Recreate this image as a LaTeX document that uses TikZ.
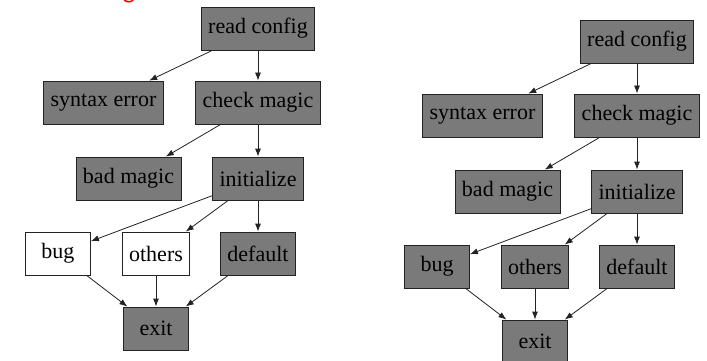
\documentclass[tikz,border=0pt]{standalone}
\usepackage{fontspec}
\setmainfont{Liberation Serif}
\newfontfamily\headfont{Carlito}
\usetikzlibrary{arrows.meta}
\definecolor{boxgray}{RGB}{122,122,122}
\definecolor{edgeink}{RGB}{35,35,35}
\tikzset{
  stage/.style={draw=edgeink, line width=0.8pt, fill=boxgray, text=black,
    font=\fontsize{22}{26}\selectfont, inner xsep=7pt, inner ysep=0pt,
    minimum width=65pt, minimum height=43pt},
  plain/.style={stage, fill=white},
  flow/.style={draw=edgeink, line width=0.8pt, -{Latex[length=8pt,width=6pt]}}
}
\begin{document}
\begin{tikzpicture}[x=1pt,y=-1pt]
\useasboundingbox (0,0) rectangle (707,361);
\fill[white] (0,0) rectangle (707,361);

% heading text running above the top edge
\node[anchor=base, text=red, font=\headfont\fontsize{26}{30}\selectfont, inner sep=0pt] (head) at (129,-1) {g};

% left flow: bug and others unfilled
\node[stage] (Lrc)  at (258,28.5)  {read config};
\node[stage] (Lse)  at (103.5,102.5) {syntax error};
\node[stage] (Lcm)  at (258,102.5) {check magic};
\node[stage] (Lbm)  at (128.5,178.5) {bad magic};
\node[stage] (Lin)  at (258,178.5) {initialize};
\node[plain] (Lbug) at (58,253.5)  {bug};
\node[plain] (Loth) at (156,253.5) {others};
\node[stage] (Ldef) at (258,253.5) {default};
\node[stage] (Lex)  at (156,328.5) {exit};

\draw[flow] (Lrc) -- (Lse);
\draw[flow] (Lrc) -- (Lcm);
\draw[flow] (Lcm) -- (Lbm);
\draw[flow] (Lcm) -- (Lin);
\draw[flow] (Lin) -- (Lbug);
\draw[flow] (Lin) -- (Loth);
\draw[flow] (Lin) -- (Ldef);
\draw[flow] (Lbug) -- (Lex);
\draw[flow] (Loth) -- (Lex);
\draw[flow] (Ldef) -- (Lex);

% right flow: every stage filled
\begin{scope}[shift={(379,13)}]
\node[stage] (Rrc)  at (258,28.5)  {read config};
\node[stage] (Rse)  at (103.5,102.5) {syntax error};
\node[stage] (Rcm)  at (258,102.5) {check magic};
\node[stage] (Rbm)  at (128.5,178.5) {bad magic};
\node[stage] (Rin)  at (258,178.5) {initialize};
\node[stage] (Rbug) at (58,253.5)  {bug};
\node[stage] (Roth) at (156,253.5) {others};
\node[stage] (Rdef) at (258,253.5) {default};
\node[stage] (Rex)  at (156,328.5) {exit};
\end{scope}

\draw[flow] (Rrc) -- (Rse);
\draw[flow] (Rrc) -- (Rcm);
\draw[flow] (Rcm) -- (Rbm);
\draw[flow] (Rcm) -- (Rin);
\draw[flow] (Rin) -- (Rbug);
\draw[flow] (Rin) -- (Roth);
\draw[flow] (Rin) -- (Rdef);
\draw[flow] (Rbug) -- (Rex);
\draw[flow] (Roth) -- (Rex);
\draw[flow] (Rdef) -- (Rex);
\end{tikzpicture}
\end{document}
